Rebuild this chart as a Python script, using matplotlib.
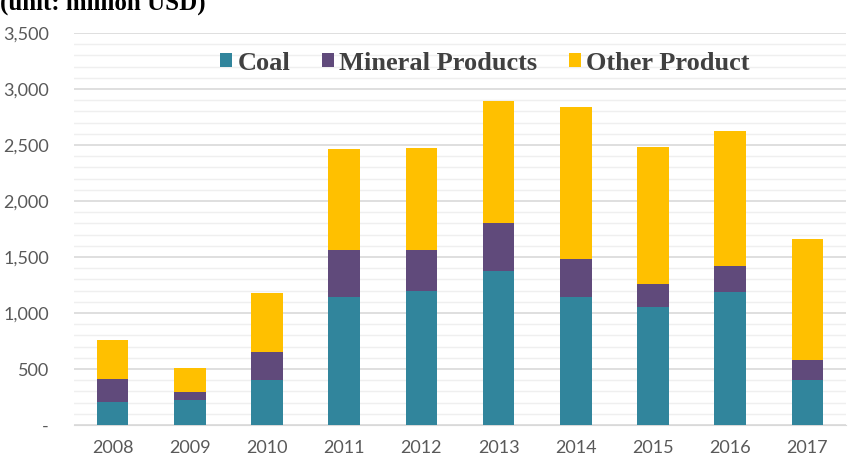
import numpy as np
import matplotlib.pyplot as plt
from matplotlib.ticker import MultipleLocator, FuncFormatter

years = ["2008", "2009", "2010", "2011", "2012", "2013", "2014", "2015", "2016", "2017"]
coal = [205, 223, 402, 1143, 1196, 1375, 1143, 1054, 1188, 402]
mineral = [206, 72, 250, 420, 367, 429, 339, 205, 232, 178]
other = [348, 214, 527, 901, 910, 1089, 1357, 1223, 1205, 1081]

fig = plt.figure(figsize=(8.51, 4.63), dpi=100)
ax = fig.add_axes([74 / 851, 1 - 425 / 463, 772 / 851, 392 / 463])

x = np.arange(len(years))
coal = np.array(coal)
mineral = np.array(mineral)
other = np.array(other)
w = 0.41
ax.bar(x, coal, w, color="#31859c", label="Coal", zorder=3)
ax.bar(x, mineral, w, bottom=coal, color="#604a7b", label="Mineral Products", zorder=3)
ax.bar(x, other, w, bottom=coal + mineral, color="#ffc000", label="Other Product", zorder=3)

ax.set_xlim(-0.5, len(years) - 0.5)
ax.set_ylim(0, 3500)
ax.yaxis.set_major_locator(MultipleLocator(500))
ax.yaxis.set_minor_locator(MultipleLocator(100))
ax.yaxis.set_major_formatter(FuncFormatter(lambda v, p: "-" if v == 0 else f"{int(v):,}"))
ax.grid(axis="y", which="major", color="#d9d9d9", linewidth=1.2, zorder=0)
ax.grid(axis="y", which="minor", color="#efefef", linewidth=1.0, zorder=0)
ax.set_xticks(x)
ax.set_xticklabels(years)
for s in ["top", "right", "left"]:
    ax.spines[s].set_visible(False)
ax.spines["bottom"].set_color("#d9d9d9")
ax.tick_params(axis="both", which="both", length=0, colors="#595959", labelsize=13)
ax.tick_params(axis="y", pad=18)
ax.tick_params(axis="x", pad=11)
for t in ax.get_xticklabels() + ax.get_yticklabels():
    t.set_fontfamily("Lato")

leg = ax.legend(loc="center", bbox_to_anchor=(0.532, 0.923), ncol=3, frameon=False,
                prop={"family": "Liberation Serif", "weight": "bold", "size": 19},
                handlelength=0.45, handleheight=0.45, handletextpad=0.2, columnspacing=1.2)
for t in leg.get_texts():
    t.set_color("#404040")

fig.text(0.0, 1 - 10 / 463, "(unit: million USD)", family="Liberation Serif", weight="bold",
         size=18, color="#000000", va="baseline", ha="left")

fig.savefig("out.png", dpi=100)
